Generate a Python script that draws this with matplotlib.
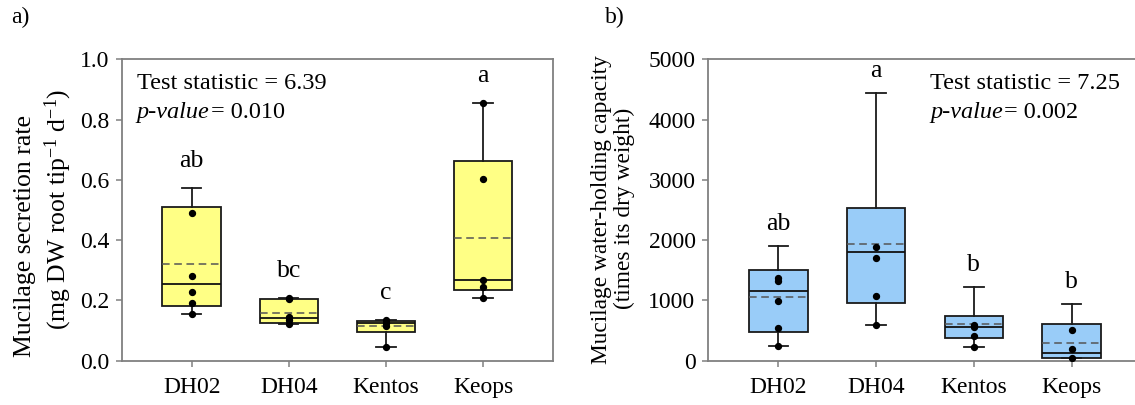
import matplotlib
matplotlib.use('Agg')
from matplotlib import pyplot as plt

plt.rcParams['font.family'] = ['Liberation Serif', 'DejaVu Serif']
plt.rcParams['mathtext.fontset'] = 'custom'
plt.rcParams['mathtext.rm'] = 'Liberation Serif'
plt.rcParams['mathtext.it'] = 'Liberation Serif:italic'

groups = ['DH02', 'DH04', 'Kentos', 'Keops']

# a) mucilage secretion rate
rate_lo = [0.155, 0.123, 0.046, 0.207]
rate_q1 = [0.182, 0.124, 0.096, 0.235]
rate_med = [0.253, 0.143, 0.124, 0.268]
rate_mean = [0.320, 0.157, 0.115, 0.406]
rate_q3 = [0.509, 0.205, 0.133, 0.663]
rate_hi = [0.572, 0.207, 0.136, 0.854]
rate_points = [[0.489, 0.282, 0.227, 0.190, 0.155],
               [0.208, 0.205, 0.144, 0.135, 0.123],
               [0.135, 0.126, 0.115, 0.046],
               [0.854, 0.602, 0.268, 0.243, 0.207]]
rate_letters = ['ab', 'bc', 'c', 'a']

# b) mucilage water-holding capacity
whc_lo = [246, 592, 232, 39]
whc_q1 = [480, 951, 371, 39]
whc_med = [1158, 1803, 564, 122]
whc_mean = [1062, 1936, 603, 299]
whc_q3 = [1505, 2528, 747, 608]
whc_hi = [1905, 4447, 1228, 940]
whc_points = [[1367, 1327, 990, 547, 246],
              [1892, 1709, 1073, 592],
              [592, 553, 415, 232],
              [509, 199, 39]]
whc_letters = ['ab', 'a', 'b', 'b']

FS = 17
W, H = 1135, 405


def box_panel(ax, lo, q1, med, mean, q3, hi, points, letters, color, offset):
    stats = []
    for i in range(len(groups)):
        stats.append(dict(whislo=lo[i], q1=q1[i], med=med[i], mean=mean[i],
                          q3=q3[i], whishi=hi[i], fliers=[]))
    pos = list(range(1, len(groups) + 1))
    ax.bxp(stats, positions=pos, widths=0.6, capwidths=0.2,
           patch_artist=True, showmeans=True, meanline=True,
           boxprops=dict(facecolor=color, edgecolor='#1a1a1a', linewidth=1.3),
           medianprops=dict(color='#111111', linewidth=1.3),
           meanprops=dict(color='#555555', linestyle=(0, (5, 3)), linewidth=1.1),
           whiskerprops=dict(color='#1a1a1a', linewidth=1.3),
           capprops=dict(color='#1a1a1a', linewidth=1.3))
    for i, pts in enumerate(points):
        ax.scatter([pos[i]] * len(pts), pts, s=18, color='black', zorder=5)
    for i, lab in enumerate(letters):
        ax.text(pos[i], hi[i] + offset, lab, ha='center', va='center', fontsize=FS + 1.5)
    ax.set_xlim(0.28, 4.72)
    ax.set_xticks(pos)
    ax.set_xticklabels(groups)
    for s in ax.spines.values():
        s.set_color('#808080')
        s.set_linewidth(1.3)
    ax.tick_params(direction='out', length=4, width=1.1, color='#808080',
                   labelsize=FS, top=False, right=False)
    ax.tick_params(axis='x', pad=8)
    ax.tick_params(axis='y', pad=5)


def stat_text(ax, x, stat, pval):
    ax.text(x, 0.921, 'Test statistic = ' + stat, transform=ax.transAxes,
            ha='left', va='center', fontsize=FS + 0.5)
    t = ax.text(x, 0.825, 'p-value', transform=ax.transAxes, ha='left',
                va='center', fontsize=FS + 0.5, style='italic')
    ax.annotate('= ' + pval, xy=(1, 0.5), xycoords=t, xytext=(1, 0),
                textcoords='offset points', ha='left', va='center', fontsize=FS + 0.5)


fig = plt.figure(figsize=(W / 100, H / 100), dpi=100)

ax1 = fig.add_axes([121.7 / W, 1 - 360.7 / H, (553 - 121.7) / W, 301.4 / H])
box_panel(ax1, rate_lo, rate_q1, rate_med, rate_mean, rate_q3, rate_hi,
          rate_points, rate_letters, '#ffff85', 0.09)
ax1.set_ylim(0, 1.0)
ax1.set_yticks([0.0, 0.2, 0.4, 0.6, 0.8, 1.0])
ax1.set_yticklabels(['0.0', '0.2', '0.4', '0.6', '0.8', '1.0'])
stat_text(ax1, 0.035, '6.39', '0.010')

ax2 = fig.add_axes([708 / W, 1 - 360.7 / H, 434 / W, 301.4 / H])
box_panel(ax2, whc_lo, whc_q1, whc_med, whc_mean, whc_q3, whc_hi,
          whc_points, whc_letters, '#99ccf8', 360)
ax2.set_ylim(0, 5000)
ax2.set_yticks([0, 1000, 2000, 3000, 4000, 5000])
stat_text(ax2, 0.512, '7.25', '0.002')

# axis titles and panel labels
fig.text(25 / W, 1 - 236 / H, 'Mucilage secretion rate', rotation=90,
         ha='center', va='center', fontsize=18.5)
fig.text(58 / W, 1 - 209 / H, r'(mg DW root tip$^{-1}$ d$^{-1}$)', rotation=90,
         ha='center', va='center', fontsize=18.5)
fig.text(602 / W, 1 - 210 / H, 'Mucilage water-holding capacity', rotation=90,
         ha='center', va='center', fontsize=16.8)
fig.text(624 / W, 1 - 208 / H, '(times its dry weight)', rotation=90,
         ha='center', va='center', fontsize=16.8)
fig.text(20 / W, 1 - 17 / H, 'a)', ha='center', va='center', fontsize=FS)
fig.text(615 / W, 1 - 17 / H, 'b)', ha='center', va='center', fontsize=FS)

fig.savefig('out.png', dpi=100)
plt.close()
